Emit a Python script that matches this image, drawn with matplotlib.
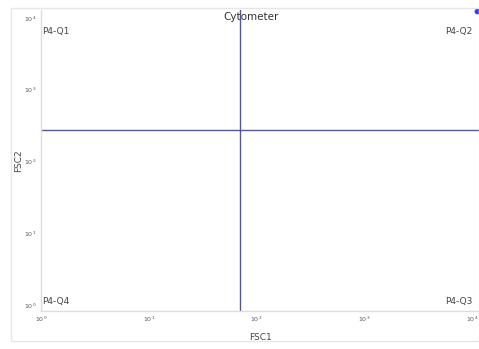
import matplotlib
matplotlib.use("Agg")
import matplotlib.pyplot as plt
from matplotlib.patches import Rectangle

# Gate thresholds on each channel
gate_x = 70
gate_y = 330
# Event shown on the plot
events_x = [11200]
events_y = [15000]
x_ticks = [1, 10, 100, 1000, 10000]
y_ticks = [1, 10, 100, 1000, 10000]
x_tick_labels = ["10$^0$", "10$^1$", "10$^2$", "10$^3$", "10$^4$"]
y_tick_labels = ["10$^0$", "10$^1$", "10$^2$", "10$^3$", "10$^4$"]
quadrants = ["P4-Q1", "P4-Q2", "P4-Q3", "P4-Q4"]

W, H = 479, 349
fig = plt.figure(figsize=(W / 100, H / 100), dpi=100)
fig.patch.set_facecolor("white")

# outer frame
fig.add_artist(Rectangle((11 / W, 1 - 341 / H), (W - 11) / W, (341 - 8) / H,
                         transform=fig.transFigure, fill=False,
                         edgecolor="#e6e6e6", linewidth=1))

ax = fig.add_axes([41 / W, 1 - 311 / H, (W - 41) / W, (311 - 10) / H])
ax.set_xscale("log")
ax.set_yscale("log")
ax.set_xlim(1, 10 ** 4.065)
ax.set_ylim(1, 10 ** 4.19)

for s in ["top", "right"]:
    ax.spines[s].set_visible(False)
for s in ["left", "bottom"]:
    ax.spines[s].set_color("#dddddd")
    ax.spines[s].set_linewidth(1)

ax.set_xticks(x_ticks)
ax.set_xticklabels(x_tick_labels)
ax.set_yticks(y_ticks)
ax.set_yticklabels(y_tick_labels)
ax.minorticks_off()
ax.tick_params(length=0, labelsize=4.5, colors="#555555", pad=3)
for lab in ax.get_yticklabels():
    lab.set_verticalalignment("bottom")

line_color = "#5252b0"
ax.axvline(gate_x, color=line_color, linewidth=1.0)
ax.axhline(gate_y, color=line_color, linewidth=1.0)

ax.scatter(events_x, events_y, s=10, color="#3a3aff", clip_on=False, zorder=5)

ax.set_xlabel("FSC1", fontsize=6.5, color="#444444", labelpad=6)
ax.set_ylabel("FSC2", fontsize=6.5, color="#444444", labelpad=1)
ax.text(0.48, 0.995, "Cytometer", transform=ax.transAxes, ha="center",
        va="top", fontsize=7.5, color="#333333")

qkw = dict(transform=ax.transAxes, fontsize=6.5, color="#444444")
ax.text(0.003, 0.945, quadrants[0], ha="left", va="top", **qkw)
ax.text(0.985, 0.945, quadrants[1], ha="right", va="top", **qkw)
ax.text(0.985, 0.015, quadrants[2], ha="right", va="bottom", **qkw)
ax.text(0.003, 0.015, quadrants[3], ha="left", va="bottom", **qkw)

fig.savefig("out.png", dpi=100)
